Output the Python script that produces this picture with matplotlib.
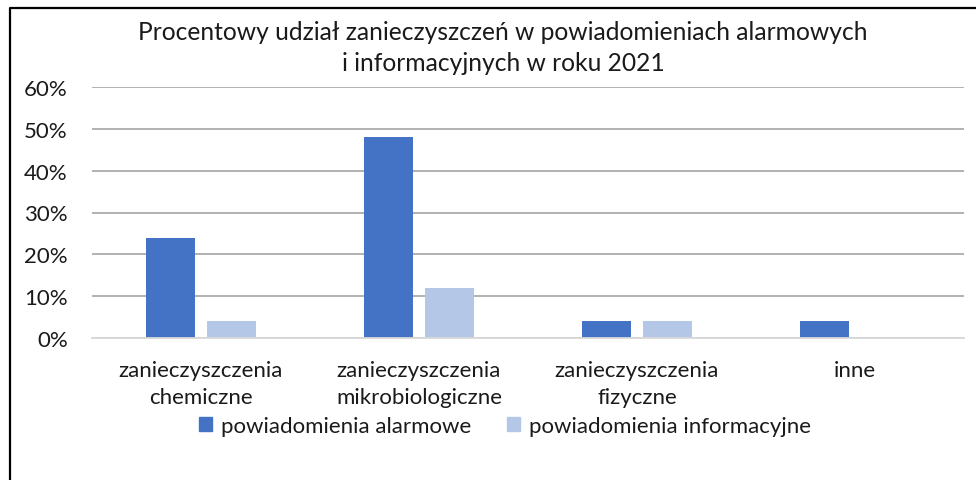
import matplotlib
matplotlib.use("Agg")
import matplotlib.pyplot as plt
import numpy as np
from matplotlib.lines import Line2D
from matplotlib.patches import Patch

plt.rcParams["font.family"] = ["Lato", "DejaVu Sans"]

categories = ["zanieczyszczenia\nchemiczne", "zanieczyszczenia\nmikrobiologiczne",
              "zanieczyszczenia\nfizyczne", "inne"]
alarmowe = [24, 48, 4, 4]
informacyjne = [4, 12, 4, 0]
series_names = ["powiadomienia alarmowe", "powiadomienia informacyjne"]
yticks = [0, 10, 20, 30, 40, 50, 60]
title = "Procentowy udział zanieczyszczeń w powiadomieniach alarmowych\ni informacyjnych w roku 2021"

C_ALARM = "#4472C4"
C_INFO = "#B4C7E7"
TXT = "#1a1a1a"
FS = 16

fig = plt.figure(figsize=(9.76, 4.81), dpi=100)
ax = fig.add_axes([92 / 976, 1 - 339 / 481, 872 / 976, 251 / 481])

x = np.arange(len(categories))
w = 0.225
off = 0.142
ax.bar(x - off, alarmowe, w, color=C_ALARM, zorder=3)
ax.bar(x + off, informacyjne, w, color=C_INFO, zorder=3)

ax.set_xlim(-0.5, len(categories) - 0.5)
ax.set_ylim(0, 60)
ax.set_yticks(yticks)
ax.set_yticklabels([f"{v}%" for v in yticks], fontsize=FS, color=TXT)
ax.set_xticks(x)
ax.set_xticklabels(categories, fontsize=FS, color=TXT, linespacing=1.4)
ax.tick_params(axis="both", length=0)
ax.tick_params(axis="y", pad=17.5)
ax.tick_params(axis="x", pad=16)
ax.grid(axis="y", color="#ABABAB", linewidth=1.3, zorder=0)
for s in ["top", "right", "left"]:
    ax.spines[s].set_visible(False)
ax.spines["bottom"].set_color("#D9D9D9")
ax.spines["bottom"].set_linewidth(1.3)
ax.spines["bottom"].set_zorder(4)

fig.text(503 / 976, 1 - 48 / 481, title, ha="center", va="center",
         fontsize=17.7, color=TXT, linespacing=1.43)

handles = [Patch(color=C_ALARM), Patch(color=C_INFO)]
fig.legend(handles, series_names, loc="center", bbox_to_anchor=(505 / 976, 1 - 427 / 481),
           ncol=2, frameon=False, fontsize=FS, handlelength=0.6, handleheight=0.6,
           handletextpad=0.4, columnspacing=1.6, labelcolor=TXT)

# chart frame (left and top edges only are visible in the crop)
fig.add_artist(Line2D([10 / 976, 10 / 976, 1], [0, 1 - 9 / 481, 1 - 9 / 481],
                      transform=fig.transFigure, color="black", linewidth=1.6))

fig.savefig("out.png", dpi=100)
